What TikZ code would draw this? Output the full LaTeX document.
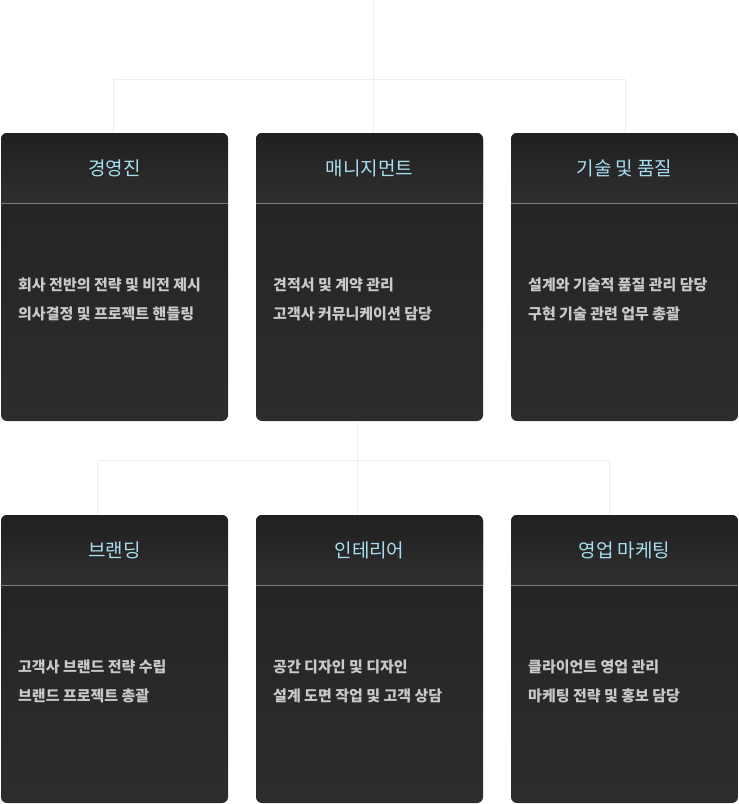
\documentclass[tikz,border=0pt]{standalone}
\usepackage{fontspec}
\setmainfont{Noto Sans CJK KR}
\definecolor{conncol}{HTML}{EEEEEE}
\definecolor{titlecol}{HTML}{A8DEF0}
\definecolor{bodycol}{HTML}{C9C9C9}
\definecolor{divcol}{HTML}{7A7A7A}
\definecolor{headtop}{HTML}{202020}
\definecolor{headbot}{HTML}{2F2F2F}
\definecolor{bodytop}{HTML}{222222}
\definecolor{bodybot}{HTML}{2D2D2D}
\tikzset{
  conn/.style={draw=conncol, line width=1pt},
  boxbody/.style={rounded corners=6pt, top color=bodytop, bottom color=bodybot, minimum width=227pt, minimum height=288pt, inner sep=0pt, draw=none},
  headshade/.style={top color=headtop, bottom color=headbot},
  divider/.style={draw=divcol, line width=1pt},
  titletext/.style={text=titlecol, font=\fontsize{19pt}{22pt}\selectfont, inner sep=0pt},
  bodytext/.style={text=bodycol, font=\fontsize{15pt}{18pt}\selectfont\bfseries, inner sep=0pt, anchor=west},
}
\newcommand\orgbox[6]{%
  \node[boxbody] (#1) at (#2+113.5,#3+144) {};
  \begin{scope}
    \clip[rounded corners=6pt] (#2,#3) rectangle (#2+227,#3+288);
    \shade[headshade] (#2,#3) rectangle (#2+227,#3+70);
  \end{scope}
  \draw[divider] (#2,#3+70) -- (#2+227,#3+70);
  \node[titletext] (#1t) at (#2+113.5,#3+35) {#4};
  \node[bodytext] (#1a) at (#2+17,#3+152) {#5};
  \node[bodytext] (#1b) at (#2+17,#3+181) {#6};
}
\begin{document}
\begin{tikzpicture}[x=1pt,y=-1pt]
\useasboundingbox (0,0) rectangle (739,804);
\coordinate (root) at (373,0);
\coordinate (j1) at (373,79);
\coordinate (j1l) at (113,79);
\coordinate (j1r) at (625,79);
\coordinate (j2) at (357,460);
\coordinate (j2l) at (97,460);
\coordinate (j2r) at (609,460);
\orgbox{a}{1}{133}{경영진}{회사 전반의 전략 및 비전 제시}{의사결정 및 프로젝트 핸들링}
\orgbox{b}{256}{133}{매니지먼트}{견적서 및 계약 관리}{고객사 커뮤니케이션 담당}
\orgbox{c}{511}{133}{기술 및 품질}{설계와 기술적 품질 관리 담당}{구현 기술 관련 업무 총괄}
\orgbox{d}{1}{515}{브랜딩}{고객사 브랜드 전략 수립}{브랜드 프로젝트 총괄}
\orgbox{e}{256}{515}{인테리어}{공간 디자인 및 디자인}{설계 도면 작업 및 고객 상담}
\orgbox{f}{511}{515}{영업 마케팅}{클라이언트 영업 관리}{마케팅 전략 및 홍보 담당}
\draw[conn] (root) -- (j1);
\draw[conn] (j1l) -- (j1r);
\draw[conn] (j1l) -- (j1l |- a.north);
\draw[conn] (j1) -- (j1 |- b.north);
\draw[conn] (j1r) -- (j1r |- c.north);
\draw[conn] (j2 |- b.south) -- (j2);
\draw[conn] (j2l) -- (j2r);
\draw[conn] (j2l) -- (j2l |- d.north);
\draw[conn] (j2) -- (j2 |- e.north);
\draw[conn] (j2r) -- (j2r |- f.north);
\end{tikzpicture}
\end{document}
